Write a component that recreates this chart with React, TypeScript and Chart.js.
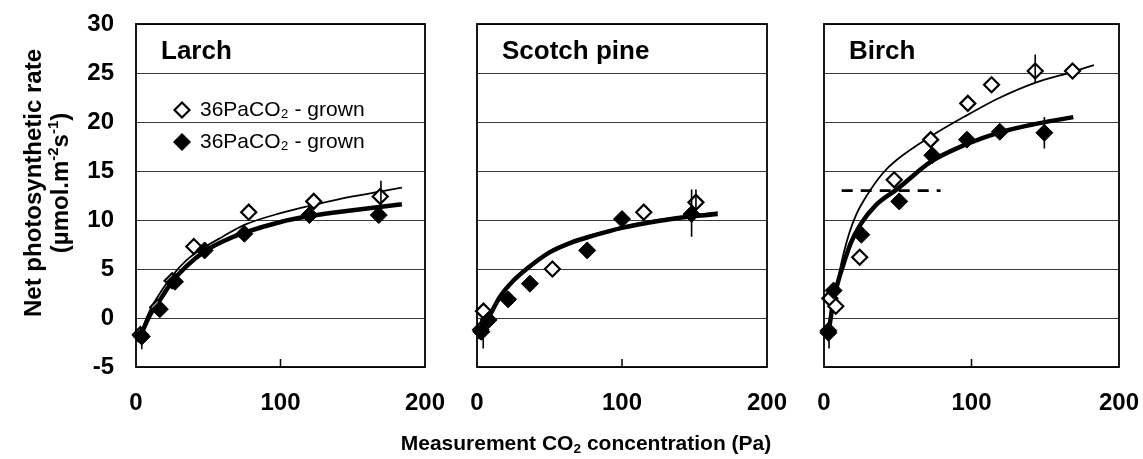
import React, { useEffect, useRef } from 'react';
import { Chart, registerables } from 'chart.js';

Chart.register(...registerables);

const FONT = '"Liberation Sans", Arial, Helvetica, sans-serif';

// ---- axes / labels ----
const xTicks = [0, 100, 200];
const yTicks = [-5, 0, 5, 10, 15, 20, 25, 30];
const panelNames = ['Larch', 'Scotch pine', 'Birch'];
const legendLabels = ['36PaCO₂ - grown', '36PaCO₂ - grown'];
const yTitleLine1 = 'Net photosynthetic rate';
const xTitleA = 'Measurement CO';
const xTitleB = ' concentration (Pa)';

// ---- Larch ----
const larchOpenX = [3, 15, 25, 40, 78, 123, 169];
const larchOpenY = [-1.7, 1.1, 3.8, 7.3, 10.8, 11.9, 12.4];
const larchFilledX = [4, 16.5, 27, 47.5, 75, 120, 168];
const larchFilledY = [-1.9, 0.9, 3.7, 6.9, 8.6, 10.5, 10.5];
const larchThinX = [2, 5, 10, 16, 25, 35, 45, 60, 75, 100, 125, 150, 184];
const larchThinY = [-2.4, -0.9, 0.9, 2.4, 4.3, 5.9, 7.0, 8.3, 9.5, 10.7, 11.6, 12.4, 13.3];
const larchThickX = [2, 5, 10, 16, 25, 35, 47.5, 60, 75, 100, 120, 150, 184];
const larchThickY = [-2.5, -1.2, 0.4, 1.7, 3.7, 5.3, 6.8, 7.8, 8.7, 9.8, 10.4, 11.0, 11.6];
const larchErrX = [4, 169.5];
const larchErrLow = [-3.2, 10.3];
const larchErrHigh = [-1.0, 14.0];

// ---- Scotch pine ----
const pineOpenX = [2.5, 4.5, 52, 115, 151];
const pineOpenY = [-1.2, 0.7, 5.0, 10.8, 11.8];
const pineFilledX = [3, 8, 21.5, 36.5, 76, 100, 148];
const pineFilledY = [-1.4, -0.2, 1.9, 3.5, 6.9, 10.1, 10.6];
const pineThinX = [2, 5, 10, 16, 25, 35, 50, 65, 80, 100, 125, 150, 166];
const pineThinY = [-2.1, -0.8, 0.7, 2.3, 3.9, 5.2, 6.7, 7.8, 8.5, 9.3, 10.0, 10.5, 10.8];
const pineThickX = [2, 5, 10, 16, 25, 35, 50, 65, 80, 100, 125, 150, 166];
const pineThickY = [-2.2, -0.9, 0.6, 2.2, 3.8, 5.1, 6.7, 7.7, 8.4, 9.2, 9.9, 10.4, 10.6];
const pineErrX = [4.3, 148, 151];
const pineErrLow = [-3.1, 8.3, 11.0];
const pineErrHigh = [-0.5, 13.1, 13.1];

// ---- Birch ----
const birchOpenX = [3, 4, 8, 24.2, 47.6, 72.3, 97.5, 113.6, 143.2, 168.5];
const birchOpenY = [-1.3, 2.0, 1.2, 6.2, 14.1, 18.2, 21.9, 23.8, 25.2, 25.2];
const birchFilledX = [3, 6.5, 25.3, 51, 73.4, 96.9, 119.2, 149.4];
const birchFilledY = [-1.5, 2.8, 8.5, 11.9, 16.6, 18.2, 19.0, 18.9];
const birchThinX = [3, 6, 9, 13, 17, 22, 28.6, 40, 49, 72, 97, 118, 143, 168, 183];
const birchThinY = [-1.6, 1.2, 3.6, 6.4, 8.6, 10.6, 12.4, 14.8, 16.1, 18.5, 20.7, 22.4, 24.0, 25.1, 25.8];
const birchThickX = [3, 6, 9, 13, 18, 25, 35, 50, 73, 96, 118, 140, 169];
const birchThickY = [-1.6, 1.4, 3.4, 5.4, 7.6, 9.6, 11.5, 13.2, 16.0, 17.7, 18.9, 19.7, 20.5];
const birchDashX = [12, 79];
const birchDashY = [13, 13];
const birchErrX = [3.4, 143.2, 149.4];
const birchErrLow = [-3.1, 24.0, 17.3];
const birchErrHigh = [-0.3, 26.9, 20.5];

type P = { x: number; y: number | null };
const pts = (xs: number[], ys: number[]): P[] => xs.map((x, i) => ({ x, y: ys[i] }));
const bars = (xs: number[], lo: number[], hi: number[]): P[] =>
  xs.flatMap((x, i) => [{ x, y: lo[i] }, { x, y: hi[i] }, { x, y: null }]);

function buildDatasets(
  open: P[], filled: P[], thin: P[], thick: P[], err: P[], dash?: P[]
) {
  const ds: any[] = [
    { data: err, showLine: true, borderColor: '#000', borderWidth: 1.6, pointRadius: 0, spanGaps: false, clip: false },
    { data: filled, showLine: false, pointStyle: 'rectRot', pointRadius: 8.5, backgroundColor: '#000', borderColor: '#000', borderWidth: 1, clip: false },
    { data: open, showLine: false, pointStyle: 'rectRot', pointRadius: 7.5, backgroundColor: '#fff', borderColor: '#000', borderWidth: 2.2, clip: false },
  ];
  if (dash) {
    ds.push({ data: dash, showLine: true, borderColor: '#000', borderWidth: 2.6, borderDash: [11, 8], pointRadius: 0, clip: false });
  }
  ds.push({ data: thick, showLine: true, borderColor: '#000', borderWidth: 4.5, pointRadius: 0, cubicInterpolationMode: 'monotone', clip: false });
  ds.push({ data: thin, showLine: true, borderColor: '#000', borderWidth: 1.8, pointRadius: 0, cubicInterpolationMode: 'monotone', clip: false });
  return ds;
}

function diamond(ctx: CanvasRenderingContext2D, x: number, y: number, r: number, filled: boolean) {
  ctx.beginPath();
  ctx.moveTo(x - r, y);
  ctx.lineTo(x, y - r);
  ctx.lineTo(x + r, y);
  ctx.lineTo(x, y + r);
  ctx.closePath();
  ctx.fillStyle = filled ? '#000' : '#fff';
  ctx.fill();
  ctx.lineWidth = filled ? 1 : 2.2;
  ctx.strokeStyle = '#000';
  ctx.stroke();
}

function makeDecor(title: string, showLegend: boolean) {
  return {
    id: 'panelDecor',
    afterDraw(chart: any) {
      const { ctx, chartArea: a, scales } = chart;
      ctx.save();
      ctx.strokeStyle = '#000';
      ctx.lineWidth = 1.8;
      ctx.strokeRect(a.left, a.top, a.right - a.left, a.bottom - a.top);
      const xs = scales.x;
      ctx.lineWidth = 1.5;
      xs.ticks.forEach((t: any) => {
        if (t.value > xs.min && t.value < xs.max) {
          const px = xs.getPixelForValue(t.value);
          ctx.beginPath();
          ctx.moveTo(px, a.bottom);
          ctx.lineTo(px, a.bottom - 8);
          ctx.stroke();
        }
      });
      ctx.fillStyle = '#000';
      ctx.font = `bold 26px ${FONT}`;
      ctx.textAlign = 'left';
      ctx.textBaseline = 'alphabetic';
      ctx.fillText(title, a.left + 25, a.top + 35);
      if (showLegend) {
        const rows = [a.top + 86, a.top + 118];
        legendLabels.forEach((lab, i) => {
          diamond(ctx, a.left + 46, rows[i], i === 0 ? 7.5 : 8.5, i === 1);
          ctx.fillStyle = '#000';
          ctx.font = `21px ${FONT}`;
          ctx.textBaseline = 'middle';
          ctx.fillText(lab, a.left + 64, rows[i]);
        });
      }
      ctx.restore();
    },
  };
}

type PanelProps = {
  left: number; width: number; padLeft: number; padRight: number;
  showY: boolean; title: string; legend: boolean; datasets: any[];
};

function Panel(p: PanelProps) {
  const ref = useRef<HTMLCanvasElement>(null);
  useEffect(() => {
    const tickFont = { family: FONT, size: 24, weight: 'bold' as const };
    const chart = new Chart(ref.current as HTMLCanvasElement, {
      type: 'scatter',
      data: { datasets: p.datasets },
      options: {
        animation: false,
        responsive: false,
        events: [],
        layout: { padding: { left: p.padLeft, right: p.padRight, top: 24, bottom: 0 } },
        plugins: { legend: { display: false }, tooltip: { enabled: false } },
        scales: {
          x: {
            type: 'linear',
            min: xTicks[0],
            max: xTicks[xTicks.length - 1],
            border: { display: false },
            grid: { display: false, drawTicks: false },
            ticks: { color: '#000', font: tickFont, padding: 22, maxRotation: 0, autoSkip: false },
            afterBuildTicks: (s: any) => { s.ticks = xTicks.map((value) => ({ value })); },
            afterFit: (s: any) => { s.height = 92; s.paddingLeft = 0; s.paddingRight = 0; },
          },
          y: {
            type: 'linear',
            min: yTicks[0],
            max: yTicks[yTicks.length - 1],
            border: { display: false },
            grid: { color: '#3a3a3a', lineWidth: 1, drawTicks: false },
            ticks: { display: p.showY, color: '#000', font: tickFont, padding: 22, autoSkip: false },
            afterBuildTicks: (s: any) => { s.ticks = yTicks.map((value) => ({ value })); },
            afterFit: (s: any) => { s.width = p.showY ? 136 : 0; s.paddingTop = 0; s.paddingBottom = 0; },
          },
        },
      } as any,
      plugins: [makeDecor(p.title, p.legend)],
    });
    return () => chart.destroy();
  }, []);
  return (
    <canvas
      ref={ref}
      width={p.width}
      height={459}
      style={{ position: 'absolute', left: p.left, top: 0, width: p.width, height: 459 }}
    />
  );
}

export default function App() {
  const supStyle: React.CSSProperties = { fontSize: '0.62em', lineHeight: 0, verticalAlign: '0.7em' };
  const subStyle: React.CSSProperties = { fontSize: '0.65em', lineHeight: 0, verticalAlign: '-0.25em' };
  return (
    <div style={{ position: 'absolute', left: 0, top: 0, width: 1143, height: 459, background: '#fff', overflow: 'hidden', fontFamily: FONT, color: '#000' }}>
      <Panel
        left={0} width={460} padLeft={0} padRight={35} showY={true} title={panelNames[0]} legend={true}
        datasets={buildDatasets(
          pts(larchOpenX, larchOpenY), pts(larchFilledX, larchFilledY),
          pts(larchThinX, larchThinY), pts(larchThickX, larchThickY),
          bars(larchErrX, larchErrLow, larchErrHigh)
        )}
      />
      <Panel
        left={440} width={360} padLeft={37} padRight={33} showY={false} title={panelNames[1]} legend={false}
        datasets={buildDatasets(
          pts(pineOpenX, pineOpenY), pts(pineFilledX, pineFilledY),
          pts(pineThinX, pineThinY), pts(pineThickX, pineThickY),
          bars(pineErrX, pineErrLow, pineErrHigh)
        )}
      />
      <Panel
        left={785} width={358} padLeft={39} padRight={24} showY={false} title={panelNames[2]} legend={false}
        datasets={buildDatasets(
          pts(birchOpenX, birchOpenY), pts(birchFilledX, birchFilledY),
          pts(birchThinX, birchThinY), pts(birchThickX, birchThickY),
          bars(birchErrX, birchErrLow, birchErrHigh), pts(birchDashX, birchDashY)
        )}
      />
      <div
        style={{
          position: 'absolute', left: -114, top: 156, width: 320, height: 54,
          transform: 'rotate(-90deg)', textAlign: 'center', whiteSpace: 'nowrap',
          font: `bold 24px/27px ${FONT}`,
        }}
      >
        <div>{yTitleLine1}</div>
        <div>(µmol.m<sup style={supStyle}>-2</sup>s<sup style={supStyle}>-1</sup>)</div>
      </div>
      <div
        style={{
          position: 'absolute', left: 386, top: 432, width: 400, textAlign: 'center',
          whiteSpace: 'nowrap', font: `bold 21px/22px ${FONT}`,
        }}
      >
        {xTitleA}<sub style={subStyle}>2</sub>{xTitleB}
      </div>
    </div>
  );
}
